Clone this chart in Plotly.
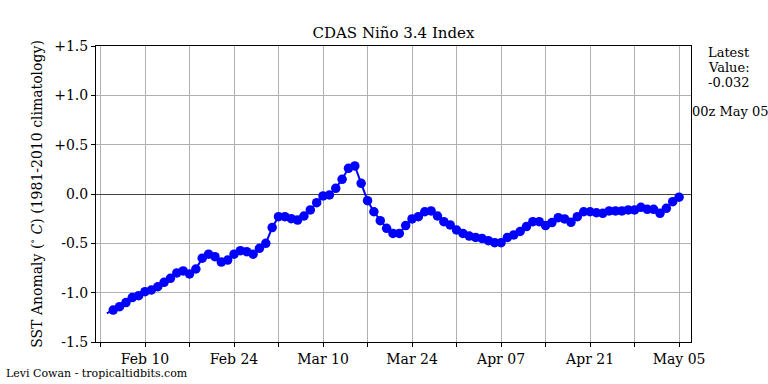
import datetime as dt
import plotly.graph_objects as go

# ---- data ----
start_date = "2025-02-04"
anomaly = [
    -1.21,  # Feb 4 (line start)
    -1.176, -1.142, -1.10, -1.05, -1.03, -0.99, -0.973, -0.94, -0.895, -0.855,
    -0.80, -0.78, -0.81, -0.76, -0.65, -0.61, -0.635, -0.69, -0.67, -0.61,
    -0.575, -0.585, -0.61, -0.55,
    # March
    -0.50, -0.34, -0.23, -0.23, -0.25, -0.264, -0.223, -0.162, -0.088, -0.02,
    -0.01, 0.058, 0.149, 0.26, 0.284, 0.108, -0.068, -0.18, -0.27, -0.348,
    -0.40, -0.40, -0.32, -0.253, -0.23, -0.18, -0.172, -0.223, -0.28, -0.314,
    -0.365,
    # April
    -0.40, -0.426, -0.44, -0.45, -0.473, -0.493, -0.493, -0.44, -0.415, -0.38,
    -0.33, -0.28, -0.28, -0.32, -0.29, -0.24, -0.253, -0.287, -0.23, -0.18,
    -0.18, -0.19, -0.196, -0.172, -0.172, -0.172, -0.162, -0.162, -0.135, -0.155,
    # May
    -0.155, -0.196, -0.145, -0.078, -0.032,
]
y_tick_vals = [1.5, 1.0, 0.5, 0.0, -0.5, -1.0, -1.5]
y_tick_text = ["+1.5", "+1.0", "+0.5", "0.0", "-0.5", "-1.0", "-1.5"]
x_tick_dates = ["2025-02-10", "2025-02-24", "2025-03-10", "2025-03-24",
                "2025-04-07", "2025-04-21", "2025-05-05"]
x_tick_text = ["Feb 10", "Feb 24", "Mar 10", "Mar 24", "Apr 07", "Apr 21", "May 05"]
x_minor_start = "2025-02-03"
latest_value = -0.032
latest_time = "00z May 05"

# ---- build ----
d0 = dt.date.fromisoformat(start_date)
dates = [d0 + dt.timedelta(days=i) for i in range(len(anomaly))]
sizes = [0] + [9.5] * (len(anomaly) - 1)

FONT = "DejaVu Serif, Liberation Serif, serif"
WEEK_MS = 7 * 24 * 3600 * 1000

fig = go.Figure()
fig.add_trace(go.Scatter(
    x=dates, y=anomaly, mode="lines+markers",
    line=dict(color="#0000ff", width=2),
    marker=dict(color="#0000ff", size=sizes, opacity=1, line=dict(width=0)),
    showlegend=False, hoverinfo="x+y",
))

fig.update_layout(
    width=768, height=384,
    margin=dict(l=96, r=77, t=46, b=42),
    paper_bgcolor="white", plot_bgcolor="white",
    font=dict(family=FONT, size=14, color="black"),
    title=dict(text="CDAS Niño 3.4 Index", x=(96 + 691) / 2 / 768, xanchor="center",
               y=1 - 33 / 384, yanchor="middle", yref="container",
               font=dict(family=FONT, size=15, color="black")),
)

fig.update_xaxes(
    type="date",
    range=["2025-02-02 07:00", "2025-05-06 21:00"],
    tickvals=x_tick_dates, ticktext=x_tick_text,
    ticks="outside", ticklen=4, tickcolor="black", tickwidth=1,
    showgrid=True, gridcolor="#b0b0b0", gridwidth=1,
    minor=dict(tick0=x_minor_start, dtick=WEEK_MS, ticks="outside", ticklen=4,
               tickcolor="black", tickwidth=1, showgrid=True,
               gridcolor="#b0b0b0", gridwidth=1),
    showline=True, linecolor="black", linewidth=1, mirror=True,
    tickfont=dict(family=FONT, size=14),
)
fig.update_yaxes(
    range=[-1.5, 1.5],
    tickvals=y_tick_vals, ticktext=y_tick_text,
    ticks="outside", ticklen=4, tickcolor="black", tickwidth=1,
    showgrid=True, gridcolor="#b0b0b0", gridwidth=1,
    zeroline=True, zerolinecolor="#444444", zerolinewidth=1.2,
    showline=True, linecolor="black", linewidth=1, mirror=True,
    tickfont=dict(family=FONT, size=14),
    title=dict(text="SST Anomaly (<sup>∘</sup> <i>C</i>) (1981-2010 climatology)",
               font=dict(family=FONT, size=14), standoff=8),
)

pw = 595.0
ph = 296.0
latest_lines = ["Latest", "Value:", f"{latest_value}"]
for i, txt in enumerate(latest_lines):
    fig.add_annotation(
        xref="paper", yref="paper", x=(729 - 96) / pw, y=(342 - (52 + 15 * i)) / ph,
        yanchor="middle", xanchor="center", showarrow=False,
        text=txt, font=dict(family=FONT, size=13, color="black"),
    )
fig.add_annotation(
    xref="paper", yref="paper", x=(730 - 96) / pw, y=(342 - 111) / ph,
    yanchor="middle", xanchor="center", showarrow=False,
    text=latest_time, font=dict(family=FONT, size=13, color="black"),
)
fig.add_annotation(
    xref="paper", yref="paper", x=(4 - 96) / pw, y=-(373 - 342) / ph,
    xanchor="left", yanchor="middle", showarrow=False,
    text="Levi Cowan - tropicaltidbits.com",
    font=dict(family=FONT, size=11, color="black"),
)

fig.write_html("out.html", config={"displayModeBar": False},
               post_script="document.body.style.margin='0';")
